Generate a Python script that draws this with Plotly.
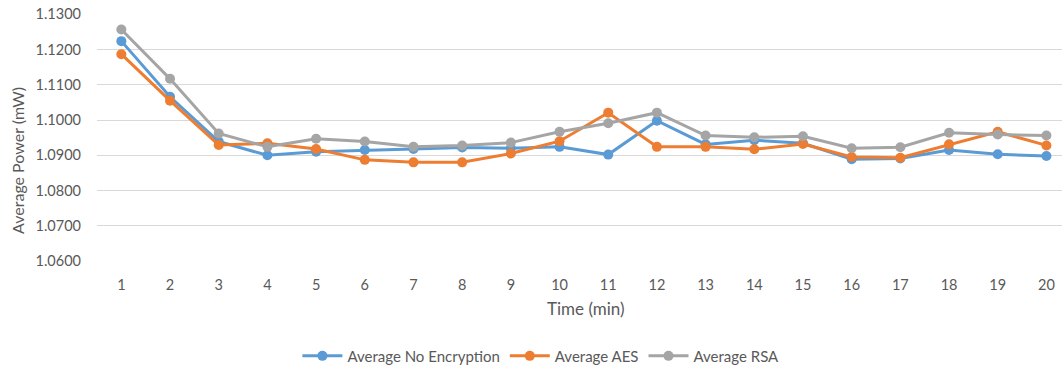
import plotly.graph_objects as go

minutes = list(range(1, 21))
no_enc = [1.1224, 1.1066, 1.0939, 1.0900, 1.0910, 1.0915, 1.0918, 1.0922, 1.0920, 1.0924,
          1.0902, 1.0998, 1.0931, 1.0943, 1.0934, 1.0889, 1.0891, 1.0915, 1.0903, 1.0898]
aes = [1.1187, 1.1055, 1.0929, 1.0934, 1.0918, 1.0887, 1.0880, 1.0880, 1.0905, 1.0940,
       1.1021, 1.0924, 1.0924, 1.0917, 1.0932, 1.0895, 1.0893, 1.0931, 1.0967, 1.0928]
rsa = [1.1257, 1.1117, 1.0962, 1.0924, 1.0947, 1.0939, 1.0924, 1.0928, 1.0936, 1.0967,
       1.0991, 1.1021, 1.0956, 1.0951, 1.0954, 1.0920, 1.0923, 1.0964, 1.0959, 1.0956]

series_names = ["Average No Encryption", "Average AES", "Average RSA"]
series_colors = ["#5B9BD5", "#ED7D31", "#A5A5A5"]
y_ticks = [1.06, 1.07, 1.08, 1.09, 1.10, 1.11, 1.12, 1.13]
x_title = "Time (min)"
y_title = "Average Power (mW)"

FONT = "Lato"
TXT = "#595959"
fig = go.Figure()
for name, vals, col in zip(series_names, [no_enc, aes, rsa], series_colors):
    fig.add_trace(go.Scatter(
        x=minutes, y=vals, name=name, mode="lines+markers",
        line=dict(color=col, width=3),
        marker=dict(color=col, size=10),
    ))

fig.update_layout(
    width=1062, height=367,
    margin=dict(l=97, r=0, t=14, b=106, autoexpand=False),
    paper_bgcolor="white", plot_bgcolor="white",
    font=dict(family=FONT, size=14.5, color=TXT),
    showlegend=True,
    legend=dict(orientation="h", x=0.46, xanchor="center", y=-0.385, yanchor="middle",
                font=dict(size=15, color=TXT), traceorder="normal", itemwidth=40),
    xaxis=dict(
        range=[0.5, 20.32], tickmode="array", tickvals=minutes,
        ticktext=[str(m) for m in minutes], automargin=False,
        showgrid=False, zeroline=False, showline=False,
        ticks="", ticklabelstandoff=13,
    ),
    yaxis=dict(
        range=[1.06, 1.1301], tickmode="array", tickvals=y_ticks,
        ticktext=[f"{v:.4f}" for v in y_ticks], automargin=False,
        showgrid=True, gridcolor="#D9D9D9", gridwidth=1,
        zeroline=False, showline=False, ticks="", ticklabelstandoff=15,
    ),
    annotations=[
        dict(text=x_title, xref="paper", yref="paper", x=0.5067, y=-0.194,
             xanchor="center", yanchor="middle", showarrow=False,
             font=dict(size=17, color=TXT)),
        dict(text=y_title, xref="paper", yref="paper", x=-0.0819, y=0.409,
             xanchor="center", yanchor="middle", showarrow=False, textangle=-90,
             font=dict(size=16, color=TXT)),
    ],
)

fig.write_html("out.html", config={"displayModeBar": False},
               post_script="document.body.style.margin='0';document.body.style.overflow='hidden';")
